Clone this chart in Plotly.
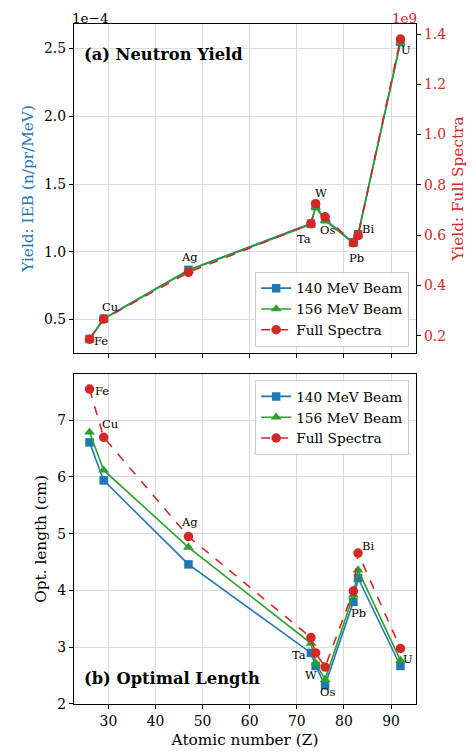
import plotly.graph_objects as go

# ---------------- data ----------------
elements = ["Fe", "Cu", "Ag", "Ta", "W", "Os", "Pb", "Bi", "U"]
atomic_number = [26, 29, 47, 73, 74, 76, 82, 83, 92]

# (a) neutron yield, IEB beams in units of 1e-4 n/pr/MeV
yield_140 = [0.357, 0.507, 0.867, 1.208, 1.338, 1.240, 1.068, 1.130, 2.549]
yield_156 = [0.355, 0.505, 0.862, 1.203, 1.330, 1.232, 1.062, 1.122, 2.545]
# full spectra yield in units of 1e9
yield_full = [0.186, 0.266, 0.452, 0.645, 0.725, 0.673, 0.570, 0.598, 1.380]

# (b) optimal length (cm)
len_140 = [6.61, 5.94, 4.46, 2.90, 2.67, 2.33, 3.80, 4.22, 2.67]
len_156 = [6.79, 6.12, 4.76, 3.07, 2.72, 2.43, 3.92, 4.36, 2.77]
len_full = [7.55, 6.70, 4.95, 3.17, 2.90, 2.65, 3.99, 4.66, 2.98]

series_names = ["140 MeV Beam", "156 MeV Beam", "Full Spectra"]

# ---------------- style ----------------
BLUE, GREEN, RED = "#1f77b4", "#2ca02c", "#d62728"
FONT = "DejaVu Serif"
GRID = "#dcdcdc"
XR = [22.7, 95.3]
TICK = 13.9
LAB = 15.3
LEG = 13.7
BODY = 8  # default page body margin compensation

# label pixel offsets (dx, dy-up) for annotations
off_top = [(11, -2), (6, 12), (1, 13), (-7, -15), (5, 13), (2, -11), (3, -15), (10, 5), (6, -8)]
off_bot = [(12, -2), (6, 13), (1, 15), (-12, -17), (-5, -22), (2, -25), (5, -22), (10, 7), (8, -11)]

fig = go.Figure()

def add_series(x, ys, xa, ya, legend, yas=None):
    cfgs = [
        (BLUE, "square", 8.5, "solid"),
        (GREEN, "triangle-up", 9.5, "solid"),
        (RED, "circle", 9.5, "dash"),
    ]
    for i, (y, (c, sym, sz, dash)) in enumerate(zip(ys, cfgs)):
        yaxis = ya if (yas is None or yas[i] is None) else yas[i]
        fig.add_trace(go.Scatter(
            x=x, y=y, name=series_names[i], mode="lines+markers",
            xaxis=xa, yaxis=yaxis, legend=legend,
            line=dict(color=c, width=1.6, dash=dash),
            marker=dict(color=c, symbol=sym, size=sz, line=dict(width=0)),
        ))

add_series(atomic_number, [yield_140, yield_156, yield_full], "x", "y", "legend",
           yas=[None, None, "y2"])
add_series(atomic_number, [len_140, len_156, len_full], "x2", "y3", "legend2")

annotations = []
for el, z, v, (dx, dy) in zip(elements, atomic_number, yield_140, off_top):
    annotations.append(dict(x=z, y=v, xref="x", yref="y", text=el, showarrow=False,
                            xshift=dx, yshift=dy, font=dict(family=FONT, size=11.5, color="black")))
for el, z, v, (dx, dy) in zip(elements, atomic_number, len_full, off_bot):
    annotations.append(dict(x=z, y=v, xref="x2", yref="y3", text=el, showarrow=False,
                            xshift=dx, yshift=dy, font=dict(family=FONT, size=11.5, color="black")))

annotations += [
    dict(x=0.024, y=0.955, xref="paper", yref="paper", text="<b>(a) Neutron Yield</b>",
         showarrow=False, xanchor="left", yanchor="middle",
         font=dict(family=FONT, size=16.3, color="black")),
    dict(x=0.024, y=0.037, xref="paper", yref="paper", text="<b>(b) Optimal Length</b>",
         showarrow=False, xanchor="left", yanchor="middle",
         font=dict(family=FONT, size=16.3, color="black")),
    dict(x=0.0, y=1.0, xref="paper", yref="paper", text="1e−4", showarrow=False,
         xanchor="left", yanchor="bottom", yshift=-3, xshift=-3, borderpad=0,
         font=dict(family=FONT, size=13.5, color="black")),
    dict(x=1.0, y=1.0, xref="paper", yref="paper", text="1e9", showarrow=False,
         xanchor="right", yanchor="bottom", yshift=-3, xshift=2, borderpad=0,
         font=dict(family=FONT, size=13.5, color=RED)),
]

axis_common = dict(
    showline=True, linecolor="black", linewidth=1.4, mirror=True,
    ticks="outside", ticklen=4, tickwidth=1.2, tickcolor="black",
    showgrid=True, gridcolor=GRID, gridwidth=1, zeroline=False,
    tickfont=dict(family=FONT, size=TICK, color="black"),
)

legend_common = dict(
    bgcolor="rgba(255,255,255,0.85)", bordercolor="#cccccc", borderwidth=1,
    font=dict(family=FONT, size=LEG, color="black"), itemwidth=30, tracegroupgap=0,
)

fig.update_layout(
    width=476, height=753,
    margin=dict(l=74 - BODY, r=60 + BODY, t=24 - BODY, b=49 + BODY, autoexpand=False),
    paper_bgcolor="white", plot_bgcolor="white",
    font=dict(family=FONT, size=TICK, color="black"),
    showlegend=True,
    xaxis=dict(axis_common, domain=[0, 1], anchor="y", range=XR, tickvals=[30, 40, 50, 60, 70, 80, 90],
               showticklabels=False),
    yaxis=dict(axis_common, domain=[0.5162, 1.0], anchor="x", range=[0.254, 2.68],
               tickvals=[0.5, 1.0, 1.5, 2.0, 2.5], ticktext=["0.5", "1.0", "1.5", "2.0", "2.5"],
               title=dict(text="Yield: IEB (n/pr/MeV)", font=dict(family=FONT, size=LAB, color=BLUE),
                          standoff=6)),
    yaxis2=dict(overlaying="y", side="right", anchor="x", range=[0.131, 1.44],
                tickvals=[0.2, 0.4, 0.6, 0.8, 1.0, 1.2, 1.4],
                ticktext=["0.2", "0.4", "0.6", "0.8", "1.0", "1.2", "1.4"],
                showgrid=False, zeroline=False, showline=True, linecolor="black", linewidth=1.4,
                ticks="outside", ticklen=4, tickwidth=1.2, tickcolor="black",
                tickfont=dict(family=FONT, size=TICK, color=RED),
                title=dict(text="Yield: Full Spectra", font=dict(family=FONT, size=LAB, color=RED),
                           standoff=7)),
    xaxis2=dict(axis_common, domain=[0, 1], anchor="y3", range=XR, tickvals=[30, 40, 50, 60, 70, 80, 90],
                title=dict(text="Atomic number (Z)", font=dict(family=FONT, size=LAB, color="black"),
                           standoff=6)),
    yaxis3=dict(axis_common, domain=[0, 0.4853], anchor="x2", range=[2, 7.815],
                tickvals=[2, 3, 4, 5, 6, 7],
                title=dict(text="Opt. length (cm)", font=dict(family=FONT, size=LAB, color="black"),
                           standoff=6)),
    legend=dict(legend_common, x=0.98, y=0.5254, xanchor="right", yanchor="bottom"),
    legend2=dict(legend_common, x=0.98, y=0.4765, xanchor="right", yanchor="top"),
    annotations=annotations,
)

fig.write_html("out.html")
